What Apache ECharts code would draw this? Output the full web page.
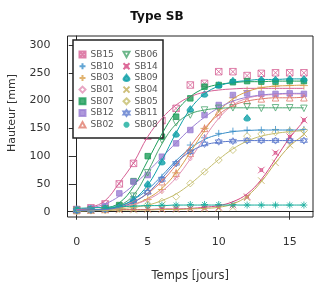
<!DOCTYPE html>
<html>
<head>
<meta charset="utf-8">
<script src="https://cdn.jsdelivr.net/npm/echarts@6/dist/echarts.min.js"></script>
<style>
  html, body { margin: 0; padding: 0; background: #fff; }
  #chart { width: 314px; height: 284px; }
</style>
</head>
<body>
<div id="chart"></div>
<script>
// days of measurement
var days = [0, 1, 2, 3, 4, 5, 6, 7, 8, 9, 10, 11, 12, 13, 14, 15, 16];
var xTicks = [0, 5, 10, 15];
var yTicks = [0, 50, 100, 150, 200, 250, 300];

var SB15_pts = [4, 7, 14, 50, 87, 136, 164, 186, 228, 231, 252, 252, 245, 249, 250, 250, 250];
var SB15_fit = [4, 8, 20, 52, 88, 135, 168, 192, 207, 215, 219, 221, 222, 222, 222, 222, 222];
var SB10_pts = [2, 3, 5, 10, 27, 46, 62, 87, 120, 133, 141, 145, 147, 147, 148, 147, 148];
var SB10_fit = [2, 3, 5, 10, 22, 40, 65, 92, 114, 130, 139, 144, 146, 147, 147, 147, 147];
var SB03_pts = [2, 3, 4, 7, 12, 22, 40, 70, 110, 150, 185, 205, 218, 224, 226, 227, 227];
var SB03_fit = [2, 3, 4, 7, 13, 24, 42, 70, 107, 146, 180, 203, 216, 223, 226, 227, 228];
var SB01_pts = [3, 4, 5, 7, 12, 20, 36, 60, 95, 135, 170, 195, 205, 208, 210, 210, 210];
var SB01_fit = [3, 4, 5, 8, 13, 22, 37, 61, 95, 133, 168, 192, 204, 209, 211, 212, 212];
var SB07_pts = [3, 4, 6, 12, 55, 100, 135, 171, 204, 225, 228, 233, 235, 234, 234, 235, 235];
var SB07_fit = [2, 3, 6, 16, 45, 92, 140, 180, 207, 222, 229, 232, 234, 234, 235, 235, 235];
var SB12_pts = [4, 6, 10, 33, 54, 66, 99, 123, 147, 174, 192, 210, 213, 212, 212, 213, 212];
var SB12_fit = [4, 7, 14, 28, 48, 72, 98, 124, 149, 170, 187, 199, 206, 210, 212, 213, 213];
var SB02_pts = [2, 3, 4, 8, 20, 38, 54, 69, 105, 150, 180, 195, 200, 203, 205, 205, 205];
var SB02_fit = [2, 3, 5, 9, 18, 33, 55, 84, 118, 150, 175, 191, 199, 203, 205, 205, 206];
var SB06_pts = [2, 3, 5, 10, 28, 70, 129, 160, 174, 183, 186, 187, 189, 186, 187, 187, 186];
var SB06_fit = [2, 3, 5, 11, 30, 72, 122, 158, 176, 183, 186, 187, 187, 187, 187, 187, 187];
var SB14_pts = [3, 3, 4, 4, 5, 5, 5, 6, 6, 7, 8, 12, 27, 75, 106, 135, 165];
var SB14_fit = [3, 3, 3, 4, 4, 4, 5, 5, 6, 8, 11, 18, 32, 58, 95, 133, 163];
var SB09_pts = [3, 4, 6, 10, 22, 50, 90, 140, 185, 212, 228, 236, 169, 238, 238, 239, 239];
var SB09_fit = [2, 3, 5, 10, 22, 48, 92, 142, 185, 212, 226, 233, 236, 238, 238, 239, 239];
var SB04_pts = [2, 2, 3, 3, 3, 4, 4, 4, 5, 5, 6, 8, 25, 56, 88, 120, 140];
var SB04_fit = [2, 2, 2, 3, 3, 3, 4, 4, 5, 6, 8, 14, 28, 54, 88, 118, 138];
var SB05_pts = [1, 2, 3, 5, 8, 13, 18, 27, 51, 72, 93, 111, 136, 140, 143, 145, 146];
var SB05_fit = [1, 2, 3, 5, 8, 12, 20, 32, 50, 72, 94, 113, 127, 136, 141, 144, 146];
var SB11_pts = [2, 3, 4, 8, 18, 35, 58, 87, 108, 122, 126, 127, 128, 128, 128, 128, 128];
var SB11_fit = [2, 3, 4, 8, 17, 34, 60, 88, 108, 120, 125, 127, 128, 128, 128, 128, 128];
var SB08_pts = [5, 6, 7, 8, 10, 11, 12, 12, 13, 13, 13, 13, 12, 12, 12, 12, 12];
var SB08_fit = [6, 7, 8, 9, 10, 11, 11, 12, 12, 12, 12, 12, 12, 12, 12, 12, 12];

var legendCol1 = ['SB15', 'SB10', 'SB03', 'SB01', 'SB07', 'SB12', 'SB02'];
var legendCol2 = ['SB06', 'SB14', 'SB09', 'SB04', 'SB05', 'SB11', 'SB08'];

// marker shapes (R pch look-alikes)
var P_SQX = 'path://M0,0H10V10H0Z M0,0L10,10 M10,0L0,10';
var P_PLUS = 'path://M5,0V10 M0,5H10';
var P_X = 'path://M0,0L10,10 M10,0L0,10';
var P_XBOX = 'path://M0,0L10,10 M10,0L0,10 M3,3H7V7H3Z';
var P_TRI = 'path://M5,0L10,9H0Z';
var P_TRIDN = 'path://M0,0H10L5,9Z';
var P_DIAM = 'path://M5,0L10,5L5,10L0,5Z';
var P_STAR = 'path://M5,0L10,7.5H0Z M5,10L0,2.5H10Z';
var P_AST = 'path://M5,0V10 M0,5H10 M1.5,1.5L8.5,8.5 M8.5,1.5L1.5,8.5';
var P_DROP = 'path://M5,0C7,3 10,5 10,7C10,9 8,10 5,10C2,10 0,9 0,7C0,5 3,3 5,0Z';

var styles = {
    SB15: { pts: SB15_pts, fit: SB15_fit, color: '#d65f94', symbol: P_SQX, size: 6.5, fill: false },
    SB10: { pts: SB10_pts, fit: SB10_fit, color: '#3b8fc9', symbol: P_PLUS, size: 7, fill: false },
    SB03: { pts: SB03_pts, fit: SB03_fit, color: '#d9a04c', symbol: P_PLUS, size: 8, fill: false },
    SB01: { pts: SB01_pts, fit: SB01_fit, color: '#e28fb4', symbol: P_DIAM, size: 4, fill: false },
    SB07: { pts: SB07_pts, fit: SB07_fit, color: '#1e9e5a', symbol: 'rect', size: 5.5, fill: true },
    SB12: { pts: SB12_pts, fit: SB12_fit, color: '#9b7fd3', symbol: 'rect', size: 5.5, fill: true },
    SB02: { pts: SB02_pts, fit: SB02_fit, color: '#e07b6b', symbol: P_TRI, size: 6.5, fill: false },
    SB06: { pts: SB06_pts, fit: SB06_fit, color: '#4aa56e', symbol: P_TRIDN, size: 6.5, fill: false },
    SB14: { pts: SB14_pts, fit: SB14_fit, color: '#d5457f', symbol: P_XBOX, size: 6.5, fill: false },
    SB09: { pts: SB09_pts, fit: SB09_fit, color: '#0fa0a8', symbol: P_DROP, size: 6.5, fill: true },
    SB04: { pts: SB04_pts, fit: SB04_fit, color: '#c2ae58', symbol: P_X, size: 6.5, fill: false },
    SB05: { pts: SB05_pts, fit: SB05_fit, color: '#c4bd6c', symbol: P_DIAM, size: 7, fill: false },
    SB11: { pts: SB11_pts, fit: SB11_fit, color: '#5a78cc', symbol: P_STAR, size: 7, fill: false },
    SB08: { pts: SB08_pts, fit: SB08_fit, color: '#15ad9c', symbol: P_AST, size: 7, fill: false }
};

var series = [];
legendCol1.concat(legendCol2).forEach(function (name) {
    var s = styles[name];
    series.push({
        name: name + ' fit',
        type: 'line',
        smooth: 0.4,
        showSymbol: false,
        silent: true,
        lineStyle: { color: s.color, width: 1 },
        data: days.map(function (d, i) { return [d, s.fit[i]]; })
    });
    series.push({
        name: name,
        type: 'scatter',
        symbol: s.symbol,
        symbolSize: s.size,
        itemStyle: {
            color: s.fill ? s.color : 'rgba(255,255,255,0)',
            borderColor: s.color,
            borderWidth: 1
        },
        data: days.map(function (d, i) { return [d, s.pts[i]]; })
    });
});

var axisText = { fontFamily: 'DejaVu Sans', fontSize: 11, color: '#333' };
var legendBase = {
    orient: 'vertical',
    top: 50,
    itemWidth: 6,
    itemHeight: 6,
    itemGap: 2.7,
    itemTextGap: 5,
    padding: 0,
    selectedMode: false,
    textStyle: { fontFamily: 'DejaVu Sans', fontSize: 9, color: '#555' }
};

var chart = echarts.init(document.getElementById('chart'), null, { renderer: 'canvas' });
chart.setOption({
    animation: false,
    backgroundColor: '#fff',
    title: {
        text: 'Type SB',
        left: 'center',
        top: 6,
        textStyle: { fontFamily: 'DejaVu Sans', fontSize: 12, fontWeight: 'bold', color: '#111' }
    },
    grid: {
        left: 67.5, top: 36, right: 1, bottom: 67,
        outerBoundsMode: 'none',
        show: true, borderColor: '#222', borderWidth: 1
    },
    legend: [
        Object.assign({}, legendBase, { left: 78.5, data: legendCol1 }),
        Object.assign({}, legendBase, { left: 122.5, data: legendCol2 })
    ],
    graphic: [{
        type: 'rect',
        z: 3,
        shape: { x: 73, y: 40, width: 90, height: 98 },
        style: { fill: '#fff', stroke: '#222', lineWidth: 1.5 }
    }],
    xAxis: {
        type: 'value',
        min: -0.65,
        max: 16.64,
        name: 'Temps [jours]',
        nameLocation: 'middle',
        nameGap: 53,
        nameTextStyle: { fontFamily: 'DejaVu Sans', fontSize: 11.5, color: '#333' },
        axisLine: { show: true, lineStyle: { color: '#222' } },
        axisTick: { show: true, length: 8, customValues: xTicks, lineStyle: { color: '#333' } },
        axisLabel: Object.assign({ customValues: xTicks, margin: 20 }, axisText),
        splitLine: { show: false }
    },
    yAxis: {
        type: 'value',
        min: -9.5,
        max: 316.2,
        name: 'Hauteur [mm]',
        nameLocation: 'middle',
        nameGap: 50,
        nameTextStyle: { fontFamily: 'DejaVu Sans', fontSize: 11, color: '#333', padding: [0, 0, 0, 27] },
        axisLine: { show: true, lineStyle: { color: '#222' } },
        axisTick: { show: true, length: 8, customValues: yTicks, lineStyle: { color: '#333' } },
        axisLabel: Object.assign({ customValues: yTicks, margin: 17 }, axisText),
        splitLine: { show: false }
    },
    series: series
});
</script>
</body>
</html>
